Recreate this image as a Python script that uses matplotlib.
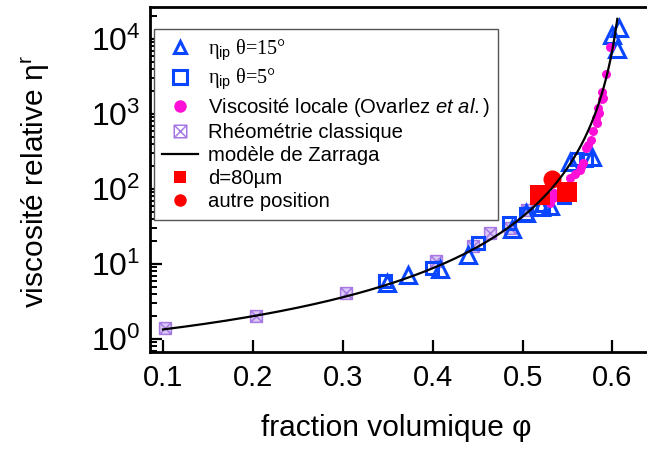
import numpy as np
import matplotlib
matplotlib.use("Agg")
import matplotlib.pyplot as plt
from matplotlib.path import Path
from matplotlib.lines import Line2D
from matplotlib.ticker import LogLocator, FixedLocator

plt.rcParams["font.family"] = ["Liberation Sans", "DejaVu Sans"]
plt.rcParams["mathtext.fontset"] = "custom"
plt.rcParams["mathtext.rm"] = "Liberation Sans"
plt.rcParams["mathtext.it"] = "Liberation Sans:italic"
plt.rcParams["mathtext.bf"] = "Liberation Sans:bold"

# --- data -------------------------------------------------------------
# eta_ip, theta = 15 deg (open triangles)
phi_tri15 = [0.349, 0.373, 0.408, 0.439, 0.488, 0.504, 0.520, 0.531,
             0.553, 0.577, 0.600, 0.605, 0.6075]
eta_tri15 = [5.5, 7.1, 8.5, 13.0, 29.0, 48.0, 57.0, 60.0,
             232.0, 268.0, 11200.0, 7400.0, 14000.0]

# eta_ip, theta = 5 deg (open squares)
phi_sq5 = [0.347, 0.399, 0.450, 0.485, 0.504, 0.523, 0.546, 0.561, 0.571]
eta_sq5 = [6.0, 8.8, 19.0, 35.0, 46.0, 61.0, 78.0, 250.0, 244.0]

# local viscosity (Ovarlez et al.)
phi_loc = [0.531, 0.534, 0.535, 0.5527, 0.558, 0.5638, 0.5645, 0.567,
           0.5705, 0.5731, 0.5757, 0.5787, 0.5816, 0.5824, 0.5842, 0.5853,
           0.588, 0.5885, 0.5898, 0.5924, 0.5972]
eta_loc = [66.0, 76.0, 88.0, 139.0, 160.0, 181.0, 198.0, 225.0,
           349.0, 386.0, 450.0, 599.0, 875.0, 751.0, 1190.0, 1020.0,
           1570.0, 1983.0, 1620.0, 3414.0, 7900.0]

# classical rheometry
phi_rheo = [0.102, 0.2035, 0.304, 0.4037, 0.4444, 0.4632, 0.486, 0.5046]
eta_rheo = [1.4, 2.03, 4.07, 10.9, 17.5, 26.1, 29.9, 52.5]

# d = 80 um (red squares) and other position (red circle)
phi_d80 = [0.519, 0.5496]
eta_d80 = [83.0, 92.0]
phi_other = [0.533]
eta_other = [136.0]

# Zarraga model: eta_r = exp(-2.34 phi) / (1 - phi/phi_m)^3
zarraga_a = 2.34
zarraga_phim = 0.62
phi_model = np.linspace(0.1, 0.6054, 400)
eta_model = np.exp(-zarraga_a * phi_model) / (1.0 - phi_model / zarraga_phim) ** 3

# --- styles -----------------------------------------------------------
blue = "#0a46ff"
magenta = "#ff10d8"
purple = "#a67ae2"
purple_fill = "#dccaf6"
red = "#ff0000"

box_x = Path([(-1, -1), (1, -1), (1, 1), (-1, 1), (-1, -1), (1, 1), (-1, 1), (1, -1)],
             [Path.MOVETO, Path.LINETO, Path.LINETO, Path.LINETO, Path.LINETO,
              Path.LINETO, Path.MOVETO, Path.LINETO])

W, H = 647, 449
fig = plt.figure(figsize=(W / 100, H / 100), dpi=100)
ax = fig.add_axes([150 / W, (H - 352) / H, (655 - 150) / W, (352 - 7) / H])

ax.set_yscale("log")
ax.set_xlim(0.08554, 0.6473)
ax.set_ylim(0.671, 26710)

# classical rheometry: filled light square + crossed box outline
ax.plot(phi_rheo, eta_rheo, ls="none", marker="s", ms=8.5, mfc=purple_fill,
        mec=purple_fill, mew=0, zorder=2)
ax.plot(phi_rheo, eta_rheo, ls="none", marker=box_x, ms=8.5, mfc="none",
        mec=purple, mew=1.1, zorder=2.1)

ax.plot(phi_tri15, eta_tri15, ls="none", marker="^", ms=12, mfc="none",
        mec=blue, mew=2.2, zorder=3)
ax.plot(phi_sq5, eta_sq5, ls="none", marker="s", ms=9, mfc="none",
        mec=blue, mew=2.2, zorder=3)
ax.plot(phi_loc, eta_loc, ls="none", marker="o", ms=6.5, mfc=magenta,
        mec=magenta, mew=0, zorder=4)
ax.plot(phi_d80, eta_d80, ls="none", marker="s", ms=15, mfc=red, mec=red,
        mew=0, zorder=5)
ax.plot(phi_other, eta_other, ls="none", marker="o", ms=13, mfc=red, mec=red,
        mew=0, zorder=5)
ax.plot(phi_model, eta_model, color="black", lw=1.6, zorder=6)

# --- axes -------------------------------------------------------------
for side in ("left", "bottom", "top"):
    ax.spines[side].set_linewidth(2.0)
ax.spines["right"].set_visible(False)

ax.xaxis.set_major_locator(FixedLocator([0.1, 0.2, 0.3, 0.4, 0.5, 0.6]))
ax.set_xticklabels(["0.1", "0.2", "0.3", "0.4", "0.5", "0.6"])
ax.yaxis.set_major_locator(LogLocator(base=10, numticks=10))
ax.yaxis.set_minor_locator(LogLocator(base=10, subs=np.arange(2, 10), numticks=20))

ax.tick_params(axis="both", which="major", direction="in", length=8.5,
               width=1.6, top=False, right=False)
ax.tick_params(axis="y", which="minor", direction="in", length=5, width=1.4,
               right=False)
ax.tick_params(axis="x", which="major", pad=9, labelsize=21)
ax.tick_params(axis="y", which="major", pad=7, labelsize=23)

fig.text(396 / W, 1 - 428 / H, "fraction volumique φ", fontsize=21.5,
         ha="center", va="center")
fig.text(36 / W, 1 - 182 / H, r"viscosité relative $\mathrm{\eta}^{\mathrm{r}}$",
         fontsize=21.5, rotation=90, ha="center", va="center")

# --- legend -----------------------------------------------------------
handles = [
    Line2D([], [], ls="none", marker="^", ms=9, mfc="none", mec=blue, mew=2.2),
    Line2D([], [], ls="none", marker="s", ms=9.5, mfc="none", mec=blue, mew=2.2),
    Line2D([], [], ls="none", marker="o", ms=9, mfc=magenta, mec=magenta, mew=0),
    Line2D([], [], ls="none", marker=box_x, ms=9, mfc="none", mec=purple, mew=1.1),
    Line2D([], [], color="black", lw=1.6),
    Line2D([], [], ls="none", marker="s", ms=9, mfc=red, mec=red, mew=0),
    Line2D([], [], ls="none", marker="o", ms=9, mfc=red, mec=red, mew=0),
]
labels = [
    r"η$_{\mathrm{ip}}$ θ=15°",
    r"η$_{\mathrm{ip}}$ θ=5°",
    r"Viscosité locale (Ovarlez $\mathit{et\ al.}$)",
    "Rhéométrie classique",
    "modèle de Zarraga",
    "d=80µm",
    "autre position",
]
leg = fig.legend(handles, labels, loc="upper left",
                 bbox_to_anchor=(154 / W, 1 - 29 / H), borderaxespad=0,
                 fontsize=14.6, frameon=True, fancybox=False, framealpha=1,
                 edgecolor="#555555", borderpad=0.4, labelspacing=0.2,
                 handlelength=1.75, handletextpad=0.5)
leg.get_frame().set_linewidth(1.0)
leg.set_zorder(10)
for t in leg.get_texts()[:2]:
    t.set_fontfamily(["Liberation Serif", "DejaVu Serif"])

fig.savefig("out.png", dpi=100)
